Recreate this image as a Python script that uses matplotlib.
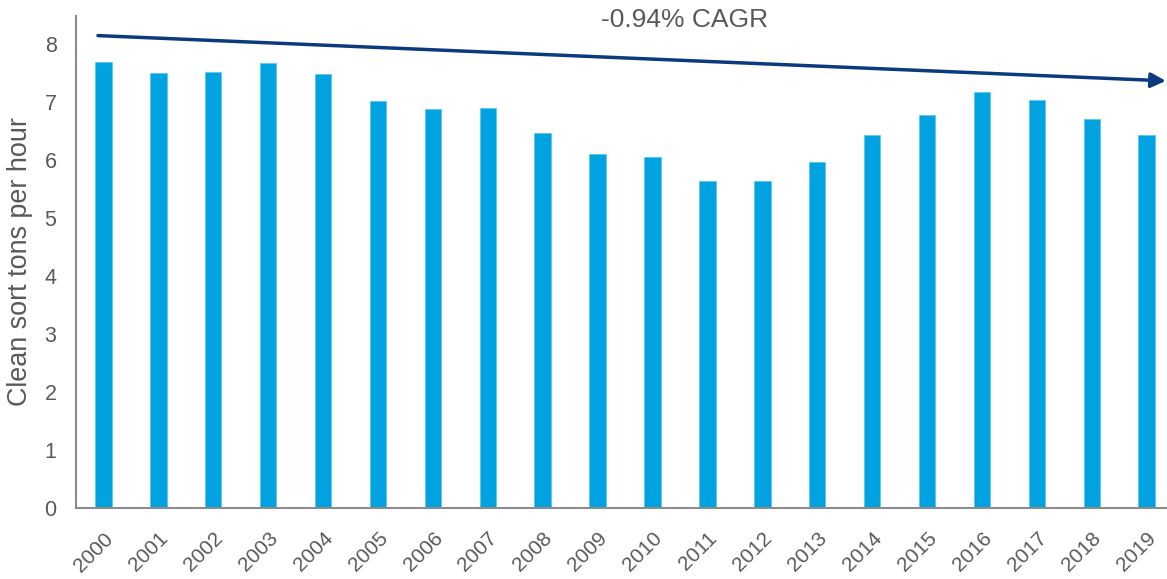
import matplotlib.pyplot as plt
import numpy as np

plt.rcParams['font.family'] = ['Liberation Sans', 'DejaVu Sans']

# Datos
years = [str(y) for y in range(2000, 2020)]
tons_per_hour = [7.68, 7.49, 7.52, 7.67, 7.47, 7.01, 6.87, 6.89, 6.47, 6.10,
                 6.05, 5.63, 5.63, 5.96, 6.43, 6.78, 7.16, 7.03, 6.71, 6.43]
cagr_label = "-0.94% CAGR"

gray = '#595959'
x = np.arange(len(years))

fig = plt.figure(figsize=(11.67, 5.79), dpi=100)
ax = fig.add_axes([0.0651, 0.1226, 0.941, 0.85])

ax.bar(x, tons_per_hour, width=0.3, color='#00A3E0', edgecolor='#5CC8F0', linewidth=0.6)

ax.set_xlim(-0.5, 19.5)
ax.set_ylim(0, 8.48)
ax.set_yticks(range(0, 9))
ax.set_xticks(x)
ax.set_xticklabels(years, rotation=45, ha='right', rotation_mode='anchor')
ax.tick_params(axis='both', length=0, colors=gray)
ax.tick_params(axis='x', labelsize=15, pad=15)
ax.tick_params(axis='y', labelsize=15.5, pad=14)

for s in ['top', 'right']:
    ax.spines[s].set_visible(False)
for s in ['left', 'bottom']:
    ax.spines[s].set_color('#8C8C8C')
    ax.spines[s].set_linewidth(1.5)

ax.set_ylabel("Clean sort tons per hour", fontsize=19.4, color=gray, labelpad=8)

# Flecha de tendencia
ax.annotate("", xy=(19.35, 7.36), xytext=(-0.1, 8.14),
            arrowprops=dict(arrowstyle='-|>', color='#0B3A7E', lw=2.5,
                            mutation_scale=22, shrinkA=0, shrinkB=0),
            annotation_clip=False)
ax.text(10.59, 8.41, cagr_label, fontsize=19, color=gray, ha='center', va='center',
        clip_on=False)

fig.savefig("out.png", dpi=100)
